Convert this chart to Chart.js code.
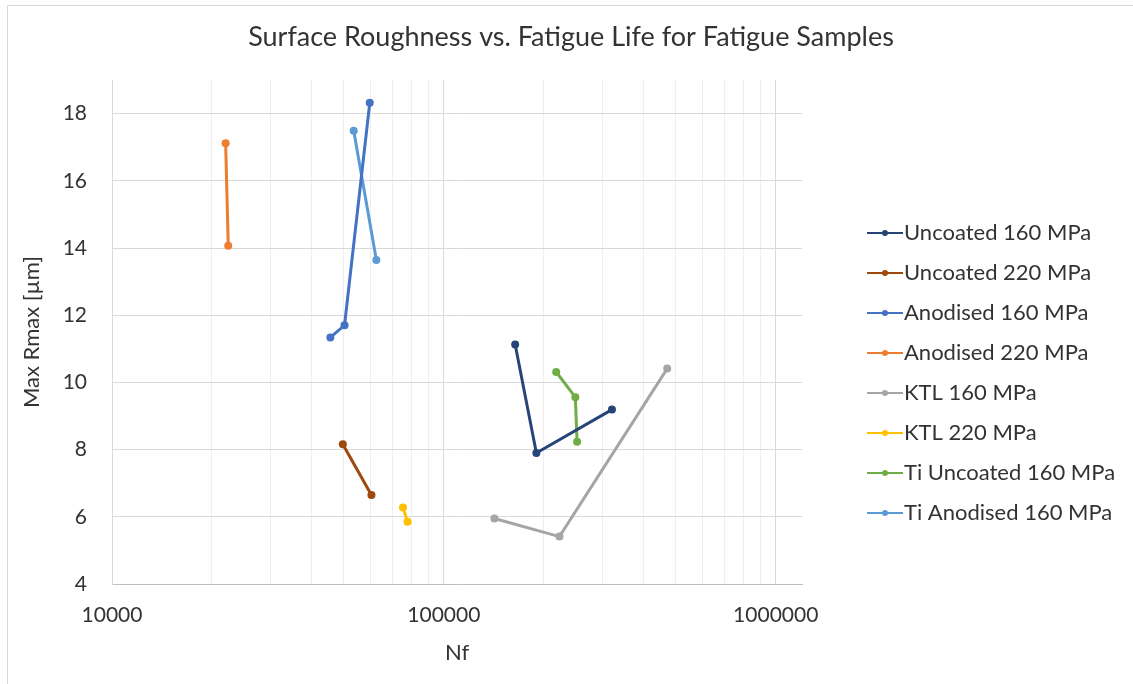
<!DOCTYPE html>
<html>
<head>
<meta charset="utf-8">
<title>Surface Roughness vs. Fatigue Life</title>
<script src="https://cdn.jsdelivr.net/npm/chart.js@4.4.1/dist/chart.umd.min.js"></script>
<style>
  html, body { margin: 0; padding: 0; background: #fff; overflow: hidden; }
  #frame { position: absolute; left: 7px; top: 5px; width: 1160px; height: 720px; border: 1px solid #d9d9d9; }
  #wrap { position: absolute; left: 0; top: 0; width: 1133px; height: 684px; }
</style>
</head>
<body>
<div id="frame"></div>
<div id="wrap"><canvas id="roughChart" width="1133" height="684"></canvas></div>
<script>
// series names and colours (Excel office palette)
const seriesNames = [
  'Uncoated 160 MPa', 'Uncoated 220 MPa', 'Anodised 160 MPa', 'Anodised 220 MPa',
  'KTL 160 MPa', 'KTL 220 MPa', 'Ti Uncoated 160 MPa', 'Ti Anodised 160 MPa'
];
const seriesColors = ['#264478', '#9E480E', '#4472C4', '#ED7D31', '#A5A5A5', '#FFC000', '#70AD47', '#5B9BD5'];

// Nf (cycles) and Max Rmax (um)
const uncoated160Nf = [164000, 190000, 321000];
const uncoated160Rmax = [11.13, 7.90, 9.19];
const uncoated220Nf = [49600, 60500];
const uncoated220Rmax = [8.16, 6.65];
const anodised160Nf = [45500, 50200, 59800];
const anodised160Rmax = [11.34, 11.70, 18.32];
const anodised220Nf = [22000, 22400];
const anodised220Rmax = [17.12, 14.07];
const ktl160Nf = [142000, 223000, 471000];
const ktl160Rmax = [5.95, 5.41, 10.41];
const ktl220Nf = [75300, 77700];
const ktl220Rmax = [6.28, 5.85];
const tiUncoated160Nf = [218000, 249000, 252000];
const tiUncoated160Rmax = [10.31, 9.56, 8.23];
const tiAnodised160Nf = [53500, 62600];
const tiAnodised160Rmax = [17.49, 13.64];

// axis ticks
const nfTicks = [10000, 20000, 30000, 40000, 50000, 60000, 70000, 80000, 90000,
  100000, 200000, 300000, 400000, 500000, 600000, 700000, 800000, 900000, 1000000];
const nfLabelled = [10000, 100000, 1000000];
const rmaxTicks = [4, 6, 8, 10, 12, 14, 16, 18];

const seriesNf = [uncoated160Nf, uncoated220Nf, anodised160Nf, anodised220Nf, ktl160Nf, ktl220Nf, tiUncoated160Nf, tiAnodised160Nf];
const seriesRmax = [uncoated160Rmax, uncoated220Rmax, anodised160Rmax, anodised220Rmax, ktl160Rmax, ktl220Rmax, tiUncoated160Rmax, tiAnodised160Rmax];

const FONT = 'Lato, "Open Sans", sans-serif';
const TEXT = '#333333';

// little line-with-dot icon for the legend
function legendIcon(color) {
  const c = document.createElement('canvas');
  c.width = 36; c.height = 10;
  const g = c.getContext('2d');
  g.strokeStyle = color; g.lineWidth = 2.2;
  g.beginPath(); g.moveTo(0, 5); g.lineTo(36, 5); g.stroke();
  g.fillStyle = color;
  g.beginPath(); g.arc(18, 5, 3, 0, Math.PI * 2); g.fill();
  return c;
}

// put the legend where Excel has it, and centre the title on the whole canvas
const placeBoxes = {
  id: 'placeBoxes',
  afterLayout(chart) {
    const lg = chart.legend;
    if (lg) {
      const w = lg.width, h = lg.height;
      lg.left = 859; lg.right = 859 + w;
      lg.top = 204; lg.bottom = 204 + h;
    }
    const tb = chart.titleBlock;
    if (tb) {
      tb.left = 10; tb.right = 1132; tb.width = 1122;
    }
  }
};

const datasets = seriesNames.map((name, i) => ({
  label: name,
  data: seriesNf[i].map((nf, j) => ({ x: nf, y: seriesRmax[i][j] })),
  showLine: true,
  borderColor: seriesColors[i],
  backgroundColor: seriesColors[i],
  borderWidth: 3,
  pointRadius: 4,
  pointBorderWidth: 0,
  pointBackgroundColor: seriesColors[i]
}));

const ctx = document.getElementById('roughChart').getContext('2d');
new Chart(ctx, {
  type: 'scatter',
  data: { datasets: datasets },
  options: {
    responsive: false,
    animation: false,
    layout: { padding: { left: 10, right: 331, top: 0, bottom: 10 } },
    plugins: {
      title: {
        display: true,
        text: 'Surface Roughness vs. Fatigue Life for Fatigue Samples',
        color: TEXT,
        font: { family: FONT, size: 27, weight: 'normal' },
        padding: { top: 21, bottom: 26.6 }
      },
      legend: {
        position: 'chartArea',
        align: 'start',
        labels: {
          color: TEXT,
          font: { family: FONT, size: 22 },
          padding: 18,
          usePointStyle: true,
          pointStyleWidth: 16,
          generateLabels(chart) {
            const items = Chart.defaults.plugins.legend.labels.generateLabels(chart);
            items.forEach(it => { it.pointStyle = legendIcon(seriesColors[it.datasetIndex]); });
            return items;
          }
        }
      },
      tooltip: { enabled: false }
    },
    scales: {
      x: {
        type: 'logarithmic',
        min: 10000,
        max: 1200000,
        afterBuildTicks(scale) { scale.ticks = nfTicks.map(v => ({ value: v })); },
        afterFit(scale) { scale.height = 90; },
        ticks: {
          color: TEXT,
          font: { family: FONT, size: 21 },
          padding: 19,
          maxRotation: 0,
          autoSkip: false,
          callback: (v) => nfLabelled.includes(v) ? String(v) : ''
        },
        grid: {
          drawTicks: false,
          color: (c) => (c.tick && nfLabelled.includes(c.tick.value)) ? '#d9d9d9' : '#eeeeee'
        },
        border: { color: '#bfbfbf', width: 1 },
        title: {
          display: true,
          text: 'Nf',
          color: TEXT,
          font: { family: FONT, size: 22 },
          padding: { top: 0, bottom: 8 }
        }
      },
      y: {
        min: 4,
        max: 19,
        afterBuildTicks(scale) { scale.ticks = rmaxTicks.map(v => ({ value: v })); },
        afterFit(scale) { scale.width = 102; },
        ticks: {
          color: TEXT,
          font: { family: FONT, size: 21 },
          padding: 25
        },
        grid: { drawTicks: false, color: '#d9d9d9' },
        border: { color: '#d9d9d9', width: 1 },
        title: {
          display: true,
          text: 'Max Rmax [µm]',
          color: TEXT,
          font: { family: FONT, size: 22 },
          padding: { top: 9, bottom: 0 }
        }
      }
    }
  },
  plugins: [placeBoxes]
});
</script>
</body>
</html>
